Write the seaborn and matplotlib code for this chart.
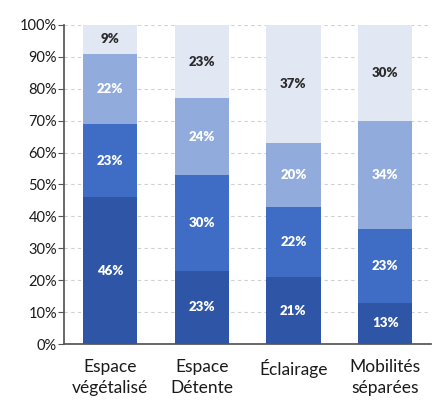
import matplotlib
matplotlib.use("Agg")
import matplotlib.pyplot as plt
import numpy as np
import pandas as pd
import seaborn as sns

categories = ["Espace\nvégétalisé", "Espace\nDétente", "Éclairage", "Mobilités\nséparées"]
level_1 = [46, 23, 21, 13]
level_2 = [23, 30, 22, 23]
level_3 = [22, 24, 20, 34]
level_4 = [9, 23, 37, 30]

colors = ["#2F56A6", "#3F6DC5", "#91ACDC", "#E2E8F3"]
text_colors = ["white", "white", "white", "#2B2B2B"]

sns.set_theme(style="white")
plt.rcParams["font.family"] = ["Lato", "DejaVu Sans"]

levels = [level_1, level_2, level_3, level_4]
rows = []
for i, vals in enumerate(levels):
    for cat, v in zip(categories, vals):
        rows.append({"category": cat, "level": i, "value": v})
df = pd.DataFrame(rows)

fig = plt.figure(figsize=(4.32, 4.01), dpi=100)
ax = fig.add_axes([0.148, 0.142, 0.85, 0.796])

bottom = np.zeros(len(categories))
for i, vals in enumerate(levels):
    sub = df[df["level"] == i]
    ax.bar(range(len(categories)), sub["value"].values, bottom=bottom,
           width=0.59, color=colors[i], zorder=2, linewidth=0)
    for x, (v, b) in enumerate(zip(sub["value"].values, bottom)):
        ax.text(x, b + v / 2, f"{v}%", ha="center", va="center",
                color=text_colors[i], fontsize=9.5, fontweight="heavy", zorder=3)
    bottom += sub["value"].values

ax.set_xlim(-0.5, 3.5)
ax.set_ylim(0, 100)
ax.set_yticks(range(0, 101, 10))
ax.set_yticklabels([f"{t}%" for t in range(0, 101, 10)], fontsize=10.5, color="#1A1A1A")
ax.set_xticks(range(len(categories)))
ax.set_xticklabels(categories, fontsize=12.5, color="#1A1A1A", linespacing=1.35)
ax.yaxis.grid(True, linestyle=(0, (3, 3)), color="#D0D0D0", linewidth=0.8, zorder=0)
ax.set_axisbelow(True)
sns.despine(ax=ax, top=True, right=True)
ax.spines["left"].set_color("#555555")
ax.spines["bottom"].set_color("#555555")
ax.tick_params(axis="y", left=True, length=4, width=0.8, color="#555555", pad=1)
ax.tick_params(axis="x", bottom=False, pad=5)

fig.savefig("out.png", dpi=100)
